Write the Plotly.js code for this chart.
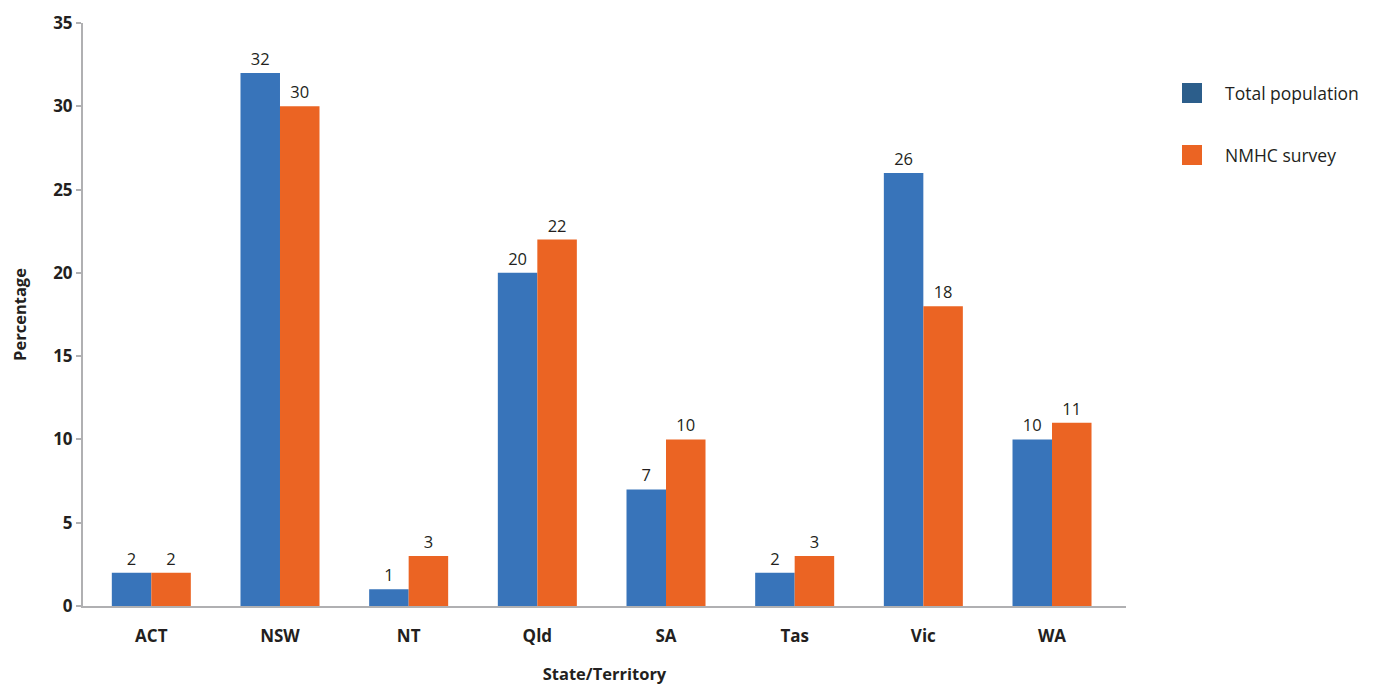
<!DOCTYPE html>
<html><head><meta charset="utf-8">
<script src="https://cdn.plot.ly/plotly-3.0.1.min.js"></script>
<style>html,body{margin:0;padding:0;background:#fff}#chart{width:1377px;height:686px}</style>
</head><body><div id="chart"></div>
<script>
const categories = ["ACT","NSW","NT","Qld","SA","Tas","Vic","WA"];
const totalPopulation = [2,32,1,20,7,2,26,10];
const nmhcSurvey = [2,30,3,22,10,3,18,11];
const seriesNames = ["Total population","NMHC survey"];
const yTicks = [0,5,10,15,20,25,30,35];

const font = "'Open Sans', 'Noto Sans', sans-serif";
const W = 1377, H = 686, ML = 83, MR = 251, MT = 23, MB = 80;
const pw = W - ML - MR, ph = H - MT - MB;
const px = x => (x - ML) / pw;
const py = y => (H - MB - y) / ph;

const barColors = ['#3874BA', '#EB6423'];
const legendColors = ['#2C5E8B', '#EB6423'];

function bar(name, y, color){
  return {type:'bar', name:name, x:categories, y:y, marker:{color:color},
    text:y.map(String), textposition:'outside', cliponaxis:false,
    textfont:{family:font, size:16.5, color:'#231F20'}, hoverinfo:'x+y'};
}
const data = [bar(seriesNames[0], totalPopulation, barColors[0]), bar(seriesNames[1], nmhcSurvey, barColors[1])];

const legendY = [93, 155];
const shapes = [
  {type:'line', xref:'paper', yref:'y', x0:px(76.5), x1:0, y0:0, y1:0, line:{color:'#B0B0B2', width:2}}
];
const annotations = [];
seriesNames.forEach((n, i) => {
  const cy = legendY[i];
  shapes.push({type:'rect', xref:'paper', yref:'paper', x0:px(1182), x1:px(1202), y0:py(cy-10), y1:py(cy+10),
    fillcolor:legendColors[i], line:{width:0}});
  annotations.push({xref:'paper', yref:'paper', x:px(1223), y:py(cy), xanchor:'left', yanchor:'middle',
    text:n, showarrow:false, font:{family:font, size:17.5, color:'#231F20'}});
});

const layout = {
  width:W, height:H,
  margin:{l:ML, r:MR, t:MT, b:MB},
  paper_bgcolor:'#fff', plot_bgcolor:'#fff',
  bargap:0.386, bargroupgap:0,
  font:{family:font, color:'#231F20'},
  xaxis:{range:[-0.531, 7.575], showline:true, linecolor:'#B0B0B2', linewidth:2, ticks:'', showgrid:false,
    ticklabelstandoff:14,
    tickfont:{family:font, size:17, color:'#231F20', weight:'bold'},
    title:{text:'<b>State/Territory</b>', font:{family:font, size:16.5, color:'#231F20'}, standoff:22}},
  yaxis:{range:[0,35], tickvals:yTicks, showline:true, linecolor:'#B0B0B2', linewidth:2,
    ticks:'outside', ticklen:5, tickcolor:'#B0B0B2', tickwidth:2, showgrid:false, zeroline:false,
    tickfont:{family:font, size:17, color:'#231F20', weight:'bold'},
    title:{text:'<b>Percentage</b>', font:{family:font, size:16.5, color:'#231F20'}, standoff:22}},
  showlegend:false,
  shapes:shapes,
  annotations:annotations
};
Plotly.newPlot('chart', data, layout, {displayModeBar:false, staticPlot:true});
</script></body></html>
